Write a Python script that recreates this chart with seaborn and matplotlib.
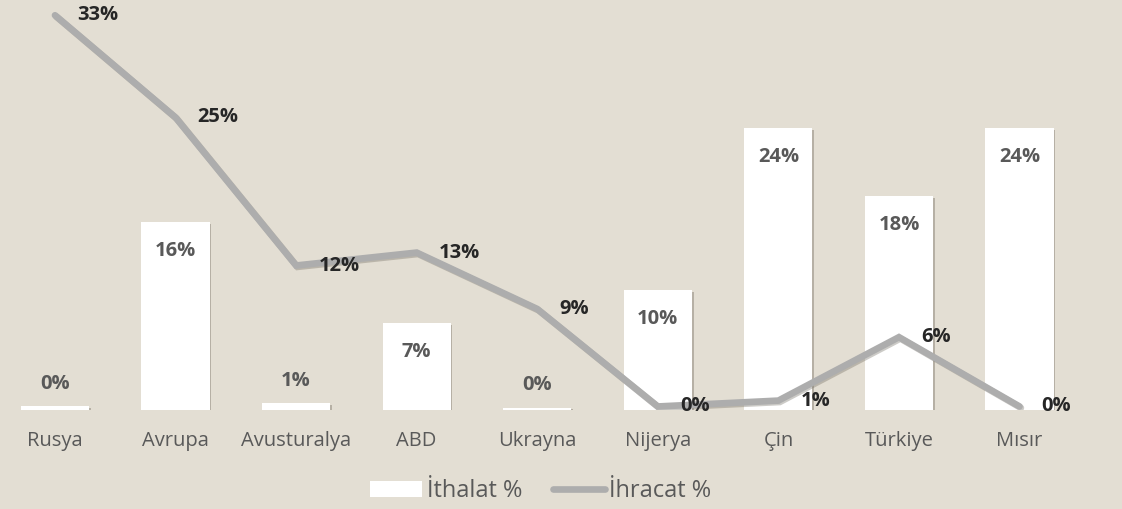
import matplotlib
matplotlib.use("Agg")
import matplotlib.pyplot as plt
import matplotlib.patheffects as pe
from matplotlib.patches import Patch
from matplotlib.lines import Line2D
import seaborn as sns

countries = ["Rusya", "Avrupa", "Avusturalya", "ABD", "Ukrayna", "Nijerya", "Çin", "Türkiye", "Mısır"]
ithalat = [0.3, 16.0, 0.6, 7.4, 0.2, 10.2, 24.0, 18.2, 24.0]
ithalat_lbl = ["0%", "16%", "1%", "7%", "0%", "10%", "24%", "18%", "24%"]
ihracat = [33.6, 24.9, 12.3, 13.4, 8.6, 0.3, 0.8, 6.2, 0.3]
ihracat_lbl = ["33%", "25%", "12%", "13%", "9%", "0%", "1%", "6%", "0%"]

bg = "#E3DED3"
line_c = "#ADADAD"

sns.set_style("white")
plt.rcParams["font.family"] = ["Open Sans", "DejaVu Sans"]

fig = plt.figure(figsize=(11.22, 5.09), dpi=100, facecolor=bg)
ax = fig.add_axes([0, 99 / 509, 1, 410 / 509])
ax.set_facecolor(bg)

shadow = [pe.SimplePatchShadow(offset=(1.2, -1.2), shadow_rgbFace="#8a8478", alpha=0.5), pe.Normal()]

sns.barplot(x=countries, y=ithalat, color="white", width=0.565, saturation=1,
            edgecolor="none", ax=ax, zorder=2)
for p in ax.patches:
    p.set_path_effects(shadow)

xs = list(range(len(countries)))
sns.lineplot(x=xs, y=ihracat, color=line_c, linewidth=4.8, ax=ax, zorder=3,
             solid_capstyle="round", solid_joinstyle="miter",
             path_effects=[pe.SimpleLineShadow(offset=(1, -1), shadow_color="#6f6a60", alpha=0.35), pe.Normal()])

for i, (v, t) in enumerate(zip(ithalat, ithalat_lbl)):
    off = 16 if v < 3 else -21
    ax.annotate(t, (i, v), xytext=(0, off), textcoords="offset points", ha="center", va="center",
                fontsize=14.5, fontweight="bold", color="#595959", zorder=4)

for i, (v, t) in enumerate(zip(ihracat, ihracat_lbl)):
    ax.annotate(t, (i, v), xytext=(16, 0), textcoords="offset points", ha="left", va="center",
                fontsize=14.5, fontweight="bold", color="#262626", zorder=5)

ax.set_xlim(-0.456, 8.85)
ax.set_ylim(0, 34.9)
ax.set_yticks([])
ax.tick_params(axis="x", length=0, pad=15, labelsize=14.5, labelcolor="#595959")
ax.set_xlabel("")
for s in ax.spines.values():
    s.set_visible(False)

handles = [Patch(facecolor="white", edgecolor="none"),
           Line2D([0], [0], color=line_c, linewidth=4.8, solid_capstyle="round")]
fig.legend(handles, ["İthalat %", "İhracat %"], loc="center", bbox_to_anchor=(0.482, 0.035),
           ncol=2, frameon=False, fontsize=17, labelcolor="#595959",
           handlelength=2.2, handleheight=0.7, handletextpad=0.2, columnspacing=1.3)

fig.savefig("out.png", dpi=100, facecolor=bg)
